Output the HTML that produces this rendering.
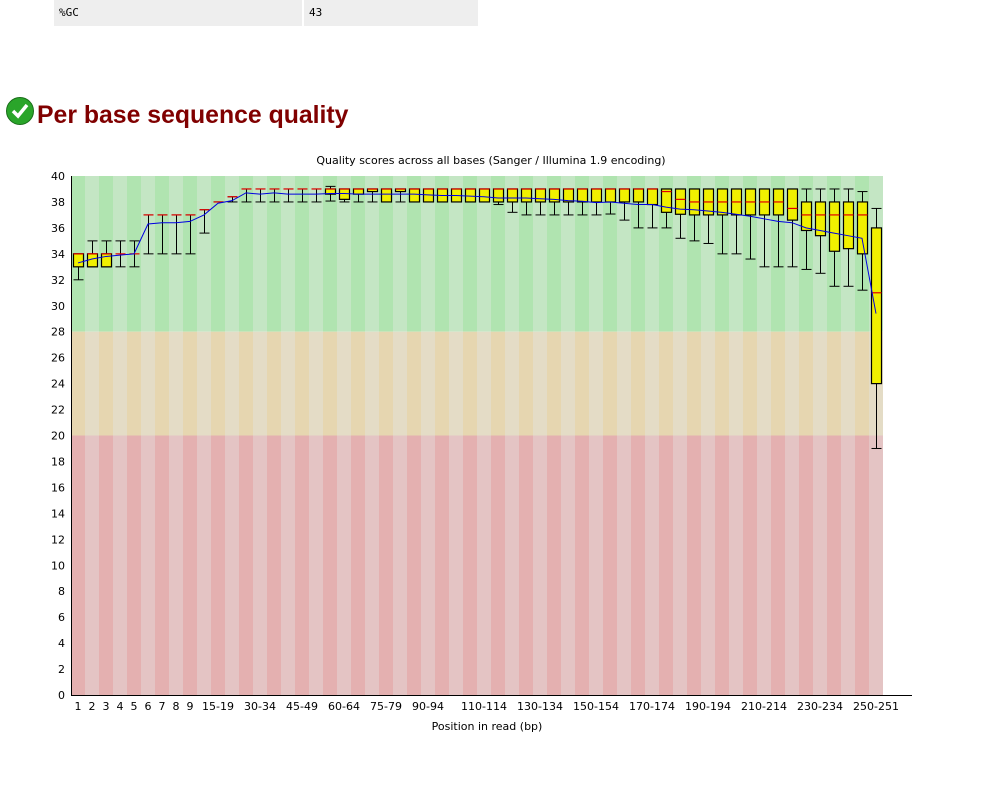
<!DOCTYPE html>
<html><head><meta charset="utf-8">
<style>
body{margin:0;background:#fff;width:998px;height:790px;overflow:hidden;font-family:"DejaVu Sans","Liberation Sans",sans-serif;position:relative}
.tbl{position:absolute;top:0;left:54px;display:flex;font-family:"DejaVu Sans Mono","Liberation Mono",monospace;font-size:11px}
.tbl div{background:#eee;height:26px;line-height:26px;padding-left:5px;box-sizing:border-box}
h2{position:absolute;margin:0;left:37px;top:102px;font-size:24.8px;font-weight:bold;color:#800000;font-family:"Liberation Sans",sans-serif}
svg{position:absolute;left:0;top:0}
</style></head><body>
<div class="tbl"><div style="width:248px">%GC</div><div style="width:2px;background:#fff;padding:0"></div><div style="width:174px">43</div></div>
<svg width="32" height="32" style="left:5px;top:96px"><circle cx="15" cy="15" r="13.5" fill="#2aa52a" stroke="#1a6e1a" stroke-width="1"/><path d="M8 15 L13 20 L22 9" stroke="#fff" stroke-width="3.5" fill="none"/></svg>
<h2>Per base sequence quality</h2>
<svg id="chart" width="998" height="790"></svg>
<script>
const categories=["1","2","3","4","5","6","7","8","9","10-14","15-19","20-24","25-29","30-34","35-39","40-44","45-49","50-54","55-59","60-64","65-69","70-74","75-79","80-84","85-89","90-94","95-99","100-104","105-109","110-114","115-119","120-124","125-129","130-134","135-139","140-144","145-149","150-154","155-159","160-164","165-169","170-174","175-179","180-184","185-189","190-194","195-199","200-204","205-209","210-214","215-219","220-224","225-229","230-234","235-239","240-244","245-249","250-251"];
const shownLabels=[0,1,2,3,4,5,6,7,8,10,13,16,19,22,25,29,33,37,41,45,49,53,57];
const medians=[34,34,34,34,34,37,37,37,37,37.4,38,38.4,39,39,39,39,39,39,39,39,39,39,39,39,39,39,39,39,39,39,39,39,39,39,39,39,39,39,39,39,39,39,38.8,38.2,38,38,38,38,38,38,38,37.5,37,37,37,37,37,31];
const q1=[33,33,33,34,34,37,37,37,37,37.4,38,38.4,39,39,39,39,39,39,38.6,38.2,38.6,38.8,38,38.8,38,38,38,38,38,38,38,38,38,38,38,38,38,38,38,38,38,37.8,37.2,37.05,37,37,37,37,37,37,37,36.6,35.8,35.4,34.2,34.4,34,24];
const q3=[34,34,34,34,34,37,37,37,37,37.4,38,38.4,39,39,39,39,39,39,39,39,39,39,39,39,39,39,39,39,39,39,39,39,39,39,39,39,39,39,39,39,39,39,39,39,39,39,39,39,39,39,39,39,38,38,38,38,38,36];
const p10=[32,33,33,33,33,34,34,34,34,35.6,38,38,38,38,38,38,38,38,38.07,38,38,38,38,38,38,38,38,38,38,38,37.8,37.2,37,37,37,37,37,37,37.07,36.6,36,36,36,35.2,35,34.8,34,34,33.6,33,33,33,32.8,32.5,31.5,31.5,31.2,19];
const p90=[34,35,35,35,35,37,37,37,37,37.4,38,38.4,39,39,39,39,39,39,39.2,39,39,39,39,39,39,39,39,39,39,39,39,39,39,39,39,39,39,39,39,39,39,39,39,39,39,39,39,39,39,39,39,39,39,39,39,39,38.8,37.5];
const means=[33.3,33.6,33.8,33.9,34.0,36.3,36.4,36.4,36.5,37.0,37.9,38.1,38.7,38.6,38.7,38.6,38.6,38.6,38.65,38.65,38.6,38.6,38.6,38.6,38.6,38.55,38.5,38.5,38.45,38.4,38.3,38.3,38.3,38.25,38.2,38.1,38.05,37.95,38.0,37.9,37.8,37.8,37.6,37.45,37.4,37.3,37.2,37.05,36.9,36.7,36.5,36.4,36.0,35.8,35.6,35.4,35.2,29.4];
const yTicks=[0,2,4,6,8,10,12,14,16,18,20,22,24,26,28,30,32,34,36,38,40];

const svg=document.getElementById('chart');
const NS='http://www.w3.org/2000/svg';
const X0=71,CW=14,Y0=695,YT=176,YMAX=40;
const n=categories.length;
function xs(i){return X0+CW*i;}
function ys(v){return Y0-(Y0-YT)*v/YMAX;}
function el(t,a,p){const e=document.createElementNS(NS,t);for(const k in a)e.setAttribute(k,a[k]);(p||svg).appendChild(e);return e;}
const zones=[[28,40,'#b0e4b0','#c4e6c4','green'],[20,28,'#e6d6b0','#e4dcc6','orange'],[0,20,'#e4b0b0','#e4c4c4','red']];
for(const z of zones){for(let i=0;i<n;i++){
 const r=el('rect',{x:xs(i),y:ys(z[1]),width:CW,height:ys(z[0])-ys(z[1]),fill:i%2?z[3]:z[2]});
 
 
}}
for(let i=0;i<n;i++){
 const g=el('g',{});
 
 
 const cx=xs(i)+CW/2+0.5,l=cx-5,r=cx+5;
 el('line',{x1:cx,x2:cx,y1:ys(p90[i]),y2:ys(q3[i]),stroke:'#000','stroke-width':1},g);
 el('line',{x1:cx,x2:cx,y1:ys(q1[i]),y2:ys(p10[i]),stroke:'#000','stroke-width':1},g);
 el('line',{x1:l,x2:r,y1:ys(p90[i]),y2:ys(p90[i]),stroke:'#000','stroke-width':1},g);
 el('line',{x1:l,x2:r,y1:ys(p10[i]),y2:ys(p10[i]),stroke:'#000','stroke-width':1},g);
 if(q3[i]>q1[i]) el('rect',{x:l,y:ys(q3[i]),width:10,height:ys(q1[i])-ys(q3[i]),fill:'#f0f000',stroke:'#000','stroke-width':1.2},g);
 el('line',{x1:l,x2:r,y1:ys(medians[i]),y2:ys(medians[i]),stroke:'#e00000','stroke-width':1.2},g);
}
let d='';for(let i=0;i<n;i++){d+=(i?'L':'M')+(xs(i)+CW/2)+' '+ys(means[i]);}
const ml=el('path',{d:d,stroke:'#0000e0','stroke-width':1,fill:'none'});


const ax=el('path',{d:`M${X0+0.5} ${YT}V${Y0+0.5}H912`,stroke:'#000','stroke-width':1,fill:'none'});


for(const t of yTicks){
 const tx=el('text',{x:65,y:ys(t)+4,'text-anchor':'end','font-size':11,fill:'#000'});
 tx.textContent=t;
 
 
}
for(const i of shownLabels){
 const tx=el('text',{x:xs(i)+CW/2,y:710,'text-anchor':'middle','font-size':11,fill:'#000'});
 tx.textContent=categories[i];
 
 
}
const tt=el('text',{x:491,y:164,'text-anchor':'middle','font-size':11,fill:'#000'});
tt.textContent='Quality scores across all bases (Sanger / Illumina 1.9 encoding)';


const xl=el('text',{x:487,y:730,'text-anchor':'middle','font-size':11,fill:'#000'});
xl.textContent='Position in read (bp)';


</script>
</body></html>
